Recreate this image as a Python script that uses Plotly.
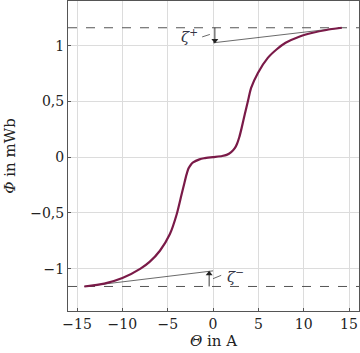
import plotly.graph_objects as go

# Magnetisation curve
theta = [-14.2, -12, -10, -8, -7, -5.86, -4.76, -4.0, -3.5, -3.2, -2.92, -2.7, -2.45, -2.2, -1.5, -1, 0,
         1, 1.5, 2.0, 2.4, 2.65, 2.9, 3.15, 3.5, 3.85, 4.2, 4.95, 6.04, 7, 8, 9.5, 11, 12.5, 14.2]
phi = [-1.16, -1.135, -1.085, -1.0, -0.94, -0.84, -0.69, -0.51, -0.345, -0.245, -0.155, -0.1, -0.068, -0.048, -0.02, -0.01, 0,
       0.01, 0.02, 0.045, 0.08, 0.12, 0.18, 0.26, 0.385, 0.503, 0.62, 0.755, 0.89, 0.965, 1.025, 1.08, 1.115, 1.14, 1.16]

phi_sat = [-1.16, 1.16]
x_range = [-16, 16.1]
y_range = [-1.38, 1.4]

# zeta+ annotation
zp_line_x = [0, 14.2]
zp_line_y = [1.025, 1.16]
zp_arrow_x = [0.2, 0.2]
zp_arrow_y = [1.16, 1.045]
zp_lead_x = [-1.2, -0.35]
zp_lead_y = [1.078, 1.10]
zp_label = [-2.6, 1.09]

# zeta- annotation
zm_line_x = [-14.2, 0]
zm_line_y = [-1.16, -1.02]
zm_arrow_x = [-0.43, -0.43]
zm_arrow_y = [-1.16, -1.045]
zm_lead_x = [0.0, 0.9]
zm_lead_y = [-1.09, -1.06]
zm_label = [2.5, -1.07]

xticks = [-15, -10, -5, 0, 5, 10, 15]
xticklabels = ["−15", "−10", "−5", "0", "5", "10", "15"]
yticks = [-1, -0.5, 0, 0.5, 1]
yticklabels = ["−1", "−0,5", "0", "0,5", "1"]

font_family = "DejaVu Serif"
fig = go.Figure()

for s in phi_sat:
    fig.add_trace(go.Scatter(x=x_range, y=[s, s], mode="lines",
                             line=dict(color="#555555", width=1, dash="dash"),
                             hoverinfo="skip", showlegend=False))

thin = dict(color="#444444", width=0.8)
for lx, ly in [(zp_line_x, zp_line_y), (zp_lead_x, zp_lead_y),
               (zm_line_x, zm_line_y), (zm_lead_x, zm_lead_y)]:
    fig.add_trace(go.Scatter(x=lx, y=ly, mode="lines", line=thin, showlegend=False))

fig.add_trace(go.Scatter(x=theta, y=phi, mode="lines",
                         line=dict(color="#7a1a48", width=2.2, shape="spline", smoothing=0.7),
                         showlegend=False))

# arrows: shaft + head marker at the tip
for ax_x, ax_y, sym in [(zp_arrow_x, zp_arrow_y, "triangle-down"), (zm_arrow_x, zm_arrow_y, "triangle-up")]:
    fig.add_trace(go.Scatter(x=ax_x, y=ax_y, mode="lines", line=dict(color="#222222", width=0.9),
                             showlegend=False))
    fig.add_trace(go.Scatter(x=[ax_x[1]], y=[ax_y[1]], mode="markers",
                             marker=dict(symbol=sym, size=6, color="#222222"),
                             showlegend=False))

fig.add_annotation(x=zp_label[0], y=zp_label[1], text="<i>ζ</i><sup>+</sup>", showarrow=False,
                   font=dict(family=font_family, size=15, color="#333344"))
fig.add_annotation(x=zm_label[0], y=zm_label[1], text="<i>ζ</i><sup>−</sup>", showarrow=False,
                   font=dict(family=font_family, size=15, color="#333344"))

axis_common = dict(showgrid=True, gridcolor="#dcdcdc", gridwidth=1, zeroline=False,
                   showline=True, linecolor="#555555", linewidth=1, mirror=True,
                   ticks="inside", ticklen=3, tickcolor="#555555",
                   tickfont=dict(family=font_family, size=14, color="#222222"))

fig.update_xaxes(range=x_range, tickvals=xticks, ticktext=xticklabels,
                 title=dict(text="<i>Θ</i> in A", font=dict(family=font_family, size=15, color="#222222"),
                            standoff=4), **axis_common)
fig.update_yaxes(range=y_range, tickvals=yticks, ticktext=yticklabels,
                 title=dict(text="<i>Φ</i> in mWb", font=dict(family=font_family, size=15, color="#222222"),
                            standoff=10), **axis_common)

fig.update_layout(width=360, height=353, margin=dict(l=68, r=1, t=1, b=42),
                  plot_bgcolor="white", paper_bgcolor="white", showlegend=False,
                  font=dict(family=font_family))

fig.write_html("out.html", config={"displayModeBar": False},
               post_script="document.body.style.margin='0';")
